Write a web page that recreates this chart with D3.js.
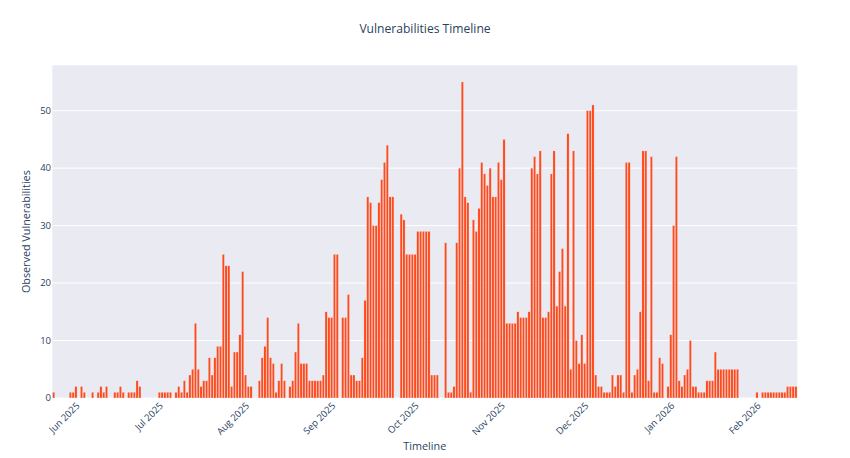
<!DOCTYPE html>
<html>
<head>
<meta charset="utf-8">
<style>
  body { margin: 0; padding: 0; background: #fff; }
  svg text { font-family: "Open Sans", verdana, arial, sans-serif; fill: #2a3f5f; }
</style>
<script src="https://cdnjs.cloudflare.com/ajax/libs/d3/7.8.5/d3.min.js"></script>
</head>
<body>
<svg width="850" height="458"></svg>
<script>
// one value per day, starting at firstDay
const firstDay = '2025-05-24';
const counts = [
  1,0,0,0,0,0,1,1,2,0,
  2,1,0,0,1,0,1,2,1,2,
  0,0,1,1,2,1,0,1,1,1,
  3,2,0,0,0,0,0,0,1,1,
  1,1,1,0,1,2,1,3,1,4,
  5,13,5,2,3,3,7,4,7,9,
  9,25,23,23,2,8,8,11,22,4,
  2,2,0,0,3,7,9,14,7,6,
  1,3,6,3,0,2,3,8,13,6,
  6,6,3,3,3,3,3,4,15,14,
  14,25,25,0,14,14,18,4,4,3,
  3,7,17,35,34,30,30,34,38,41,
  44,35,35,0,0,32,31,25,25,25,
  25,29,29,29,29,29,4,4,4,0,
  0,27,1,1,2,27,40,55,35,34,
  1,31,29,33,41,39,37,40,35,35,
  41,38,45,13,13,13,13,15,14,14,
  14,15,40,42,39,43,14,14,15,39,
  43,16,22,26,16,46,5,43,10,6,
  11,6,50,50,51,4,2,2,1,1,
  1,4,2,4,4,1,41,41,1,4,
  5,15,43,43,3,42,1,1,7,6,
  0,2,11,30,42,3,2,4,5,10,
  2,2,1,1,1,3,3,3,8,5,
  5,5,5,5,5,5,5,0,0,0,
  0,0,0,1,0,1,1,1,1,1,
  1,1,1,1,2,2,2,2
];
const yTicks = [0, 10, 20, 30, 40, 50];
const monthTicks = ['2025-06-01','2025-07-01','2025-08-01','2025-09-01','2025-10-01',
                    '2025-11-01','2025-12-01','2026-01-01','2026-02-01'];

const svg = d3.select('svg');
const plotLeft = 52.3, plotRight = 797.3, plotTop = 65.3, plotBottom = 398;
const parse = d3.utcParse('%Y-%m-%d');
const start = parse(firstDay);
const days = counts.map((v, i) => ({ date: d3.utcDay.offset(start, i), value: v }));
const halfDay = 12 * 3600 * 1000;

const x = d3.scaleUtc()
  .domain([new Date(start - halfDay), new Date(+days[days.length - 1].date + halfDay)])
  .range([plotLeft, plotRight]);
const y = d3.scaleLinear().domain([0, 57.9]).range([plotBottom, plotTop]);
const slot = x(d3.utcDay.offset(start, 1)) - x(start);
const bw = slot * 0.8;

// plot background
svg.append('rect')
  .attr('x', plotLeft).attr('y', plotTop)
  .attr('width', plotRight - plotLeft).attr('height', plotBottom - plotTop)
  .attr('fill', 'rgb(234,234,242)');

// grid
svg.append('g').selectAll('line').data(yTicks).join('line')
  .attr('x1', plotLeft).attr('x2', plotRight)
  .attr('y1', d => y(d)).attr('y2', d => y(d))
  .attr('stroke', '#fff').attr('stroke-width', 1);

// bars
svg.append('g').selectAll('rect').data(days.filter(d => d.value > 0)).join('rect')
  .attr('x', d => x(d.date) - bw / 2)
  .attr('width', bw)
  .attr('y', d => y(d.value))
  .attr('height', d => y(0) - y(d.value))
  .attr('fill', '#FF4A1C')
  .attr('stroke', 'rgb(234,234,242)')
  .attr('stroke-width', 0.3);

// y tick labels
svg.append('g').selectAll('text').data(yTicks).join('text')
  .attr('x', 51).attr('y', d => y(d))
  .attr('dy', '0.35em')
  .attr('text-anchor', 'end')
  .style('font-size', '9.5px')
  .text(d => d);

// x tick labels
const fmt = d3.utcFormat('%b %Y');
svg.append('g').selectAll('text').data(monthTicks.map(parse)).join('text')
  .attr('transform', d => `translate(${x(d) + 2},${plotBottom + 6}) rotate(-45)`)
  .attr('text-anchor', 'end')
  .attr('dy', '0.35em')
  .style('font-size', '9.5px')
  .text(d => fmt(d));

// axis titles
svg.append('text')
  .attr('x', (plotLeft + plotRight) / 2).attr('y', 450)
  .attr('text-anchor', 'middle')
  .style('font-size', '10.8px')
  .text('Timeline');

svg.append('text')
  .attr('transform', `translate(30,${(plotTop + plotBottom) / 2}) rotate(-90)`)
  .attr('text-anchor', 'middle')
  .style('font-size', '10.8px')
  .text('Observed Vulnerabilities');

svg.append('text')
  .attr('x', 425).attr('y', 33)
  .attr('text-anchor', 'middle')
  .style('font-size', '12.1px')
  .text('Vulnerabilities Timeline');
</script>
</body>
</html>
